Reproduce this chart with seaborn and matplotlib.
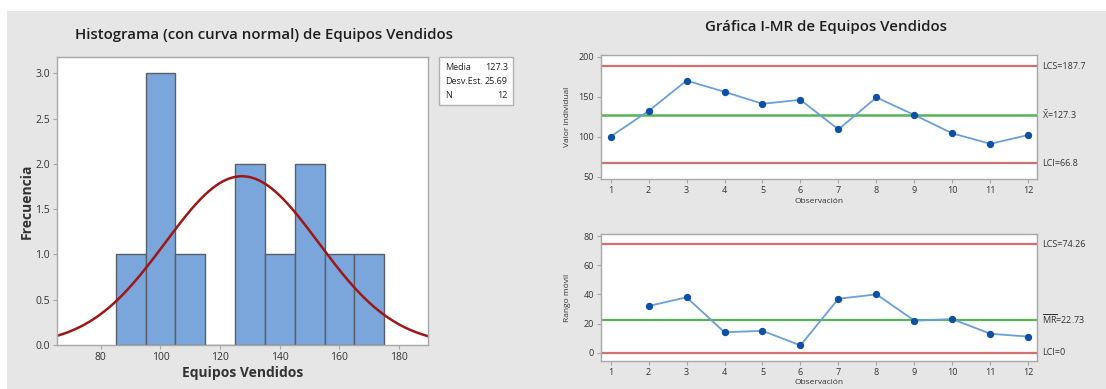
import numpy as np
import pandas as pd
import matplotlib
matplotlib.use("Agg")
import matplotlib.pyplot as plt
import matplotlib.transforms as mtransforms
from matplotlib.patches import Rectangle
import seaborn as sns

# ---- data ----
observaciones = [1, 2, 3, 4, 5, 6, 7, 8, 9, 10, 11, 12]
equipos_vendidos = [100, 132, 170, 156, 141, 146, 109, 149, 127, 104, 91, 102]
obs_mr = [2, 3, 4, 5, 6, 7, 8, 9, 10, 11, 12]
rango_movil = [32, 38, 14, 15, 5, 37, 40, 22, 23, 13, 11]
bin_edges = [85, 95, 105, 115, 125, 135, 145, 155, 165, 175]
media = 127.3
desv_est = 25.69
n_obs = 12
i_lcs, i_centro, i_lci = 187.7, 127.3, 66.8
mr_lcs, mr_centro, mr_lci = 74.26, 22.73, 0
hist_xticks = [80, 100, 120, 140, 160, 180]
hist_yticks = [0.0, 0.5, 1.0, 1.5, 2.0, 2.5, 3.0]

sns.set_theme(style="white")
plt.rcParams["font.family"] = ["Open Sans", "DejaVu Sans"]
plt.rcParams["mathtext.fontset"] = "custom"
plt.rcParams["mathtext.rm"] = "Open Sans"
plt.rcParams["mathtext.it"] = "Open Sans"

W, H = 1106, 389
fig = plt.figure(figsize=(W / 100, H / 100), dpi=100, facecolor="white")
GRAY = "#e6e6e6"
fig.patches.append(Rectangle((7 / W, 0), 1 - 7 / W, 1 - 11 / H, transform=fig.transFigure,
                             facecolor=GRAY, edgecolor="none", zorder=-10))

def ax_rect(l, t, r, b):
    return [l / W, 1 - b / H, (r - l) / W, (b - t) / H]

SPINE = "#a8a8a8"
TXT = "#333333"

def style_ax(ax, fs):
    ax.set_facecolor("white")
    for s in ax.spines.values():
        s.set_color(SPINE)
        s.set_linewidth(1.0)
    ax.tick_params(axis="both", which="both", direction="out", length=3, width=0.8,
                   color=SPINE, labelsize=fs, labelcolor=TXT, pad=2,
                   bottom=True, left=True)

# ---- histogram ----
axh = fig.add_axes(ax_rect(57, 57, 428, 345))
df = pd.DataFrame({"Equipos Vendidos": equipos_vendidos})
sns.histplot(data=df, x="Equipos Vendidos", bins=bin_edges, stat="count", ax=axh,
             color="#7aa6db", edgecolor="#5a5f66", linewidth=1.0, alpha=1.0)
xs = np.linspace(65, 190, 400)
ys = n_obs * 10 * np.exp(-0.5 * ((xs - media) / desv_est) ** 2) / (desv_est * np.sqrt(2 * np.pi))
sns.lineplot(x=xs, y=ys, ax=axh, color="#9e1717", linewidth=1.8)
axh.set_xlim(65.3, 189.7)
axh.set_ylim(0, 3.18)
axh.set_xticks(hist_xticks)
axh.set_yticks(hist_yticks)
axh.set_yticklabels([f"{v:.1f}" for v in hist_yticks])
style_ax(axh, 7.5)
axh.set_xlabel("Equipos Vendidos", fontsize=10, fontweight="bold", color=TXT, labelpad=2)
axh.set_ylabel("Frecuencia", fontsize=10, fontweight="bold", color=TXT, labelpad=1)
fig.text(264 / W, 1 - 35 / H, "Histograma (con curva normal) de Equipos Vendidos",
         ha="center", va="center", fontsize=10.8, fontweight="semibold", color="#1e1e1e")

# stats box
box = Rectangle((439 / W, 1 - 105 / H), 74 / W, 48 / H, transform=fig.transFigure,
                facecolor="white", edgecolor="#b0b0b0", linewidth=1.0)
fig.patches.append(box)
stats = [("Media", "127.3"), ("Desv.Est.", "25.69"), ("N", "12")]
for i, (k, v) in enumerate(stats):
    yy = 1 - (67 + i * 14) / H
    fig.text(445 / W, yy, k, ha="left", va="center", fontsize=6.5, color="#222222")
    fig.text(508 / W, yy, v, ha="right", va="center", fontsize=6.5, color="#222222")

# ---- I chart ----
LINE = "#6a9fd8"
MARK = "#0b4fa6"
RED = "#d07070"
GREEN = "#55b35a"

axi = fig.add_axes(ax_rect(600.7, 55, 1036.7, 179))
dfi = pd.DataFrame({"Observación": observaciones, "Valor individual": equipos_vendidos})
axi.axhline(i_lcs, color=RED, lw=1.6, zorder=1)
axi.axhline(i_lci, color=RED, lw=1.6, zorder=1)
axi.axhline(i_centro, color=GREEN, lw=1.8, zorder=1)
sns.lineplot(data=dfi, x="Observación", y="Valor individual", ax=axi, color=LINE,
             linewidth=1.3, marker="o", markersize=4.5, markerfacecolor=MARK,
             markeredgecolor=MARK, zorder=3)
axi.set_xlim(0.74, 12.22)
axi.set_ylim(47, 202)
axi.set_xticks(observaciones)
axi.set_yticks([50, 100, 150, 200])
style_ax(axi, 6.5)
axi.set_xlabel("Observación", fontsize=6, color=TXT, labelpad=2)
axi.set_ylabel("Valor individual", fontsize=6, color=TXT, labelpad=5)
tri = mtransforms.blended_transform_factory(axi.transAxes, axi.transData)
axi.text(1.012, i_lcs, "LCS=187.7", transform=tri, va="center", ha="left", fontsize=6.5, color=TXT)
axi.text(1.012, i_centro, r"$\bar{\mathrm{X}}$=127.3", transform=tri, va="center", ha="left", fontsize=6.5, color=TXT)
axi.text(1.012, i_lci, "LCI=66.8", transform=tri, va="center", ha="left", fontsize=6.5, color=TXT)
fig.text(826 / W, 1 - 27 / H, "Gráfica I-MR de Equipos Vendidos", ha="center", va="center",
         fontsize=10.8, fontweight="semibold", color="#1e1e1e")

# ---- MR chart ----
axm = fig.add_axes(ax_rect(600.7, 234.3, 1036.7, 360.7))
dfm = pd.DataFrame({"Observación": obs_mr, "Rango móvil": rango_movil})
axm.axhline(mr_lcs, color=RED, lw=1.6, zorder=1)
axm.axhline(mr_lci, color=RED, lw=1.6, zorder=1)
axm.axhline(mr_centro, color=GREEN, lw=1.6, zorder=1)
sns.lineplot(data=dfm, x="Observación", y="Rango móvil", ax=axm, color=LINE,
             linewidth=1.3, marker="o", markersize=4.5, markerfacecolor=MARK,
             markeredgecolor=MARK, zorder=3)
axm.set_xlim(0.74, 12.22)
axm.set_ylim(-5.5, 81.2)
axm.set_xticks(observaciones)
axm.set_yticks([0, 20, 40, 60, 80])
style_ax(axm, 6.5)
axm.set_xlabel("Observación", fontsize=6, color=TXT, labelpad=2)
axm.set_ylabel("Rango móvil", fontsize=6, color=TXT, labelpad=9)
trm = mtransforms.blended_transform_factory(axm.transAxes, axm.transData)
axm.text(1.012, mr_lcs, "LCS=74.26", transform=trm, va="center", ha="left", fontsize=6.5, color=TXT)
axm.text(1.012, mr_centro, r"$\overline{\mathrm{MR}}$=22.73", transform=trm, va="center", ha="left", fontsize=6.5, color=TXT)
axm.text(1.012, mr_lci, "LCI=0", transform=trm, va="center", ha="left", fontsize=6.5, color=TXT)

fig.savefig("out.png", dpi=100, facecolor=fig.get_facecolor())
